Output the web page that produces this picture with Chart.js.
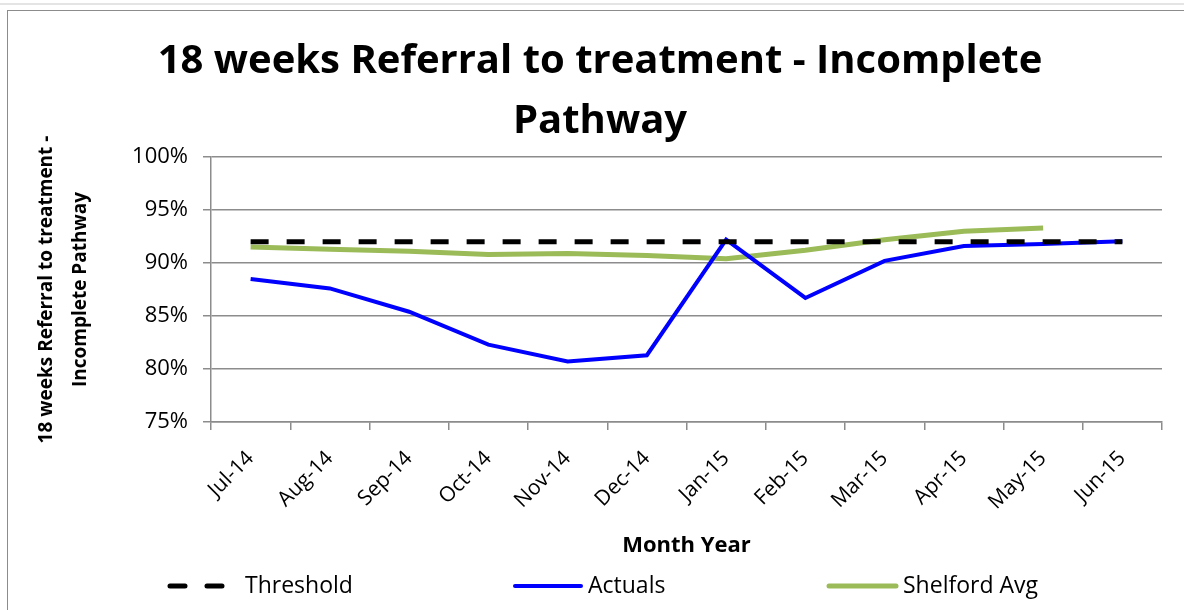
<!DOCTYPE html>
<html>
<head>
<meta charset="utf-8">
<script src="https://cdn.jsdelivr.net/npm/chart.js@4"></script>
<style>
  body { margin: 0; background: #fff; overflow: hidden; }
  #wrap { position: relative; width: 1184px; height: 610px; }
  #topline { position: absolute; left: 0; top: 3px; width: 1184px; height: 2px; background: #e4e4e4; }
  #frame { position: absolute; left: 7px; top: 10px; width: 1200px; height: 620px; border: 1px solid #8c8c8c; }
  canvas { position: absolute; left: 0; top: 0; }
</style>
</head>
<body>
<div id="wrap">
  <div id="topline"></div>
  <div id="frame"></div>
  <canvas id="chart" width="1184" height="610"></canvas>
</div>
<script>
// Monthly data
const months = ["Jul-14", "Aug-14", "Sep-14", "Oct-14", "Nov-14", "Dec-14",
                "Jan-15", "Feb-15", "Mar-15", "Apr-15", "May-15", "Jun-15"];
const threshold = [92, 92, 92, 92, 92, 92, 92, 92, 92, 92, 92, 92];
const actuals = [88.5, 87.6, 85.4, 82.3, 80.7, 81.3, 92.2, 86.7, 90.2, 91.6, 91.8, 92.05];
const shelfordAvg = [91.5, 91.3, 91.1, 90.8, 90.9, 90.7, 90.4, 91.2, 92.2, 93.0, 93.3, null];

const FONT = "'Open Sans', sans-serif";
const GRID = "#8c8c8c";

// Legend drawn in columns like the original
const legendSpots = [
    { x: 168, w: 56, textX: 245 },
    { x: 513, w: 70, textX: 588 },
    { x: 827, w: 71, textX: 903 }
];
const columnLegend = {
    id: "columnLegend",
    afterDraw(chart) {
        const ctx = chart.ctx;
        const y = 586;
        chart.data.datasets.forEach((ds, i) => {
            const spot = legendSpots[i];
            ctx.save();
            ctx.strokeStyle = ds.borderColor;
            ctx.lineWidth = ds.borderWidth;
            ctx.lineCap = "round";
            ctx.setLineDash(ds.borderDash ? [15, 22] : []);
            ctx.beginPath();
            ctx.moveTo(spot.x + 2, y);
            ctx.lineTo(spot.x + spot.w - 2, y);
            ctx.stroke();
            ctx.setLineDash([]);
            ctx.fillStyle = "#000";
            ctx.font = "23px " + FONT;
            ctx.textBaseline = "middle";
            ctx.fillText(ds.label, spot.textX, y);
            ctx.restore();
        });
    }
};

new Chart(document.getElementById("chart"), {
    type: "line",
    data: {
        labels: months,
        datasets: [
            { label: "Threshold", data: threshold, borderColor: "#000000", borderWidth: 5, borderDash: [18, 18] },
            { label: "Actuals", data: actuals, borderColor: "#0000ff", borderWidth: 4 },
            { label: "Shelford Avg", data: shelfordAvg, borderColor: "#9bbb59", borderWidth: 5 }
        ]
    },
    options: {
        responsive: false,
        animation: false,
        elements: { point: { radius: 0 }, line: { tension: 0 } },
        layout: { padding: { left: 38, right: 22, top: 0, bottom: 50 } },
        plugins: {
            legend: { display: false },
            tooltip: { enabled: false },
            title: {
                display: true,
                text: ["18 weeks Referral to treatment - Incomplete", "Pathway"],
                color: "#000",
                font: { family: FONT, size: 40, weight: "bold", lineHeight: "60px" },
                padding: { top: 32, bottom: 5 }
            }
        },
        scales: {
            x: {
                offset: true,
                afterFit: (scale) => { scale.height = 138; },
                grid: { offset: true, drawOnChartArea: false, color: GRID, tickLength: 8, lineWidth: 1.5 },
                border: { color: GRID, width: 1.5 },
                ticks: { color: "#000", font: { family: FONT, size: 21 }, maxRotation: 45, minRotation: 45, padding: 16 },
                title: { display: true, text: "Month Year", color: "#000", font: { family: FONT, size: 22, weight: "bold" }, padding: { top: 0, bottom: 1 } }
            },
            y: {
                min: 75,
                max: 100,
                afterFit: (scale) => { scale.width = 173; },
                grid: { color: GRID, tickLength: 8, lineWidth: 1.5 },
                border: { color: GRID, width: 1.5 },
                ticks: { stepSize: 5, color: "#000", font: { family: FONT, size: 22 }, padding: 15, callback: (v) => v + "%" },
                title: {
                    display: true,
                    text: ["18 weeks Referral to treatment -", "Incomplete Pathway"],
                    color: "#000",
                    font: { family: FONT, size: 19, weight: "bold", lineHeight: "34px" },
                    padding: { top: -8, bottom: 0 }
                }
            }
        }
    },
    plugins: [columnLegend]
});
</script>
</body>
</html>
